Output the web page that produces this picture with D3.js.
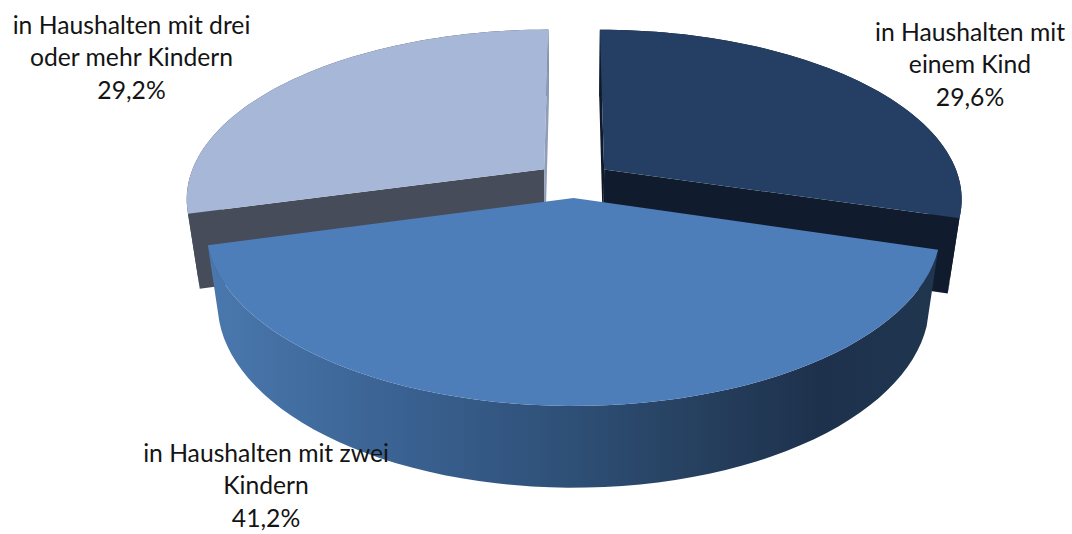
<!DOCTYPE html>
<head>
  <meta charset="utf-8">
  <script src="https://d3js.org/d3.v7.min.js"></script>
  <style>
    body { margin:0; background:#fff; }
    text { font-family: Lato, "Open Sans", sans-serif; font-size: 24.7px; fill: #141414; text-anchor: middle; }
  </style>
</head>
<body>
  <script>
    var categories = ["in Haushalten mit einem Kind", "in Haushalten mit zwei Kindern", "in Haushalten mit drei oder mehr Kindern"];
    var values = [29.6, 41.2, 29.2];
    var percentLabels = ["29,6%", "41,2%", "29,2%"];
    var labelLines = [["in Haushalten mit", "einem Kind"], ["in Haushalten mit zwei", "Kindern"], ["in Haushalten mit drei", "oder mehr Kindern"]];

    var width = 1072, height = 534;

    // fake 3d: ground plane seen from above, with perspective
    var cx = 574, cy = 180;
    var R = 355.5, explode = 38, thick = 76;
    var tilt = 0.468, kDepth = 0.00047, kDrop = 0.0004;

    var topColor = ["#243f63", "#4d7eba", "#a7b7d8"];
    var wallColor = ["#101c2e", "url(#wallGrad)", "#464c5a"];
    var sideColor = ["#0e1a2b", "#2c4a72", "#8f9db9"];
    var labelPos = [[970, 41], [266, 462], [131.5, 34]];

    var svg = d3.select("body").append("svg")
        .attr("width", width)
        .attr("height", height)
        .style("display", "block");

    var grad = svg.append("defs").append("linearGradient")
        .attr("id", "wallGrad")
        .attr("gradientUnits", "userSpaceOnUse")
        .attr("x1", 208).attr("x2", 938).attr("y1", 0).attr("y2", 0);
    grad.selectAll("stop")
        .data([[0, "#4a78ae"], [0.26, "#3a6292"], [0.5, "#2e4f76"], [0.67, "#26405f"], [0.84, "#1d314c"], [1, "#20364f"]])
        .enter().append("stop")
        .attr("offset", d => d[0])
        .attr("stop-color", d => d[1]);

    function project(p) {
        var s = 1 / (1 + kDepth * p.z + kDrop * p.h);
        return [cx + p.x * s, cy + (-p.z * tilt + p.h) * s];
    }

    var line = d3.line();
    var pie = d3.pie().sort(null).startAngle(0).endAngle(2 * Math.PI);
    var slices = pie(values);

    slices.forEach(d => {
        var mid = (d.startAngle + d.endAngle) / 2;
        d.ox = explode * Math.sin(mid);
        d.oz = explode * Math.cos(mid);
    });

    function rim(d, h) {
        return d3.range(0, 61).map(i => {
            var a = d.startAngle + (d.endAngle - d.startAngle) * i / 60;
            return project({x: d.ox + R * Math.sin(a), z: d.oz + R * Math.cos(a), h: h});
        });
    }
    function apex(d, h) {
        return project({x: d.ox, z: d.oz, h: h});
    }

    // back slices first, the front one goes on top
    [0, 2, 1].forEach(i => {
        var d = slices[i];
        var t = rim(d, 0), b = rim(d, thick);
        var at = apex(d, 0), ab = apex(d, thick);

        // outer wall
        svg.append("path")
            .attr("d", line(t.concat(b.slice().reverse())) + "Z")
            .attr("fill", wallColor[i]);
        // the cut faces of the front slice are hidden anyway
        if (i != 1) {
            svg.append("path")
                .attr("d", line([at, t[0], b[0], ab]) + "Z")
                .attr("fill", i == 2 ? wallColor[2] : sideColor[i]);
            svg.append("path")
                .attr("d", line([at, t[60], b[60], ab]) + "Z")
                .attr("fill", i == 2 ? sideColor[2] : wallColor[0]);
        }
        // top
        svg.append("path")
            .attr("d", line([at].concat(t)) + "Z")
            .attr("fill", topColor[i]);
    });

    var labels = svg.selectAll(".label")
        .data(categories)
        .enter().append("text")
        .attr("class", "label")
        .attr("data-name", d => d)
        .attr("transform", (d, i) => "translate(" + labelPos[i] + ")");
    labels.each(function(d, i) {
        var lines = labelLines[i].concat(percentLabels[i]);
        d3.select(this).selectAll("tspan")
            .data(lines)
            .enter().append("tspan")
            .attr("x", 0)
            .attr("y", (l, j) => j * 32.3)
            .text(l => l);
    });
  </script>
</body>
